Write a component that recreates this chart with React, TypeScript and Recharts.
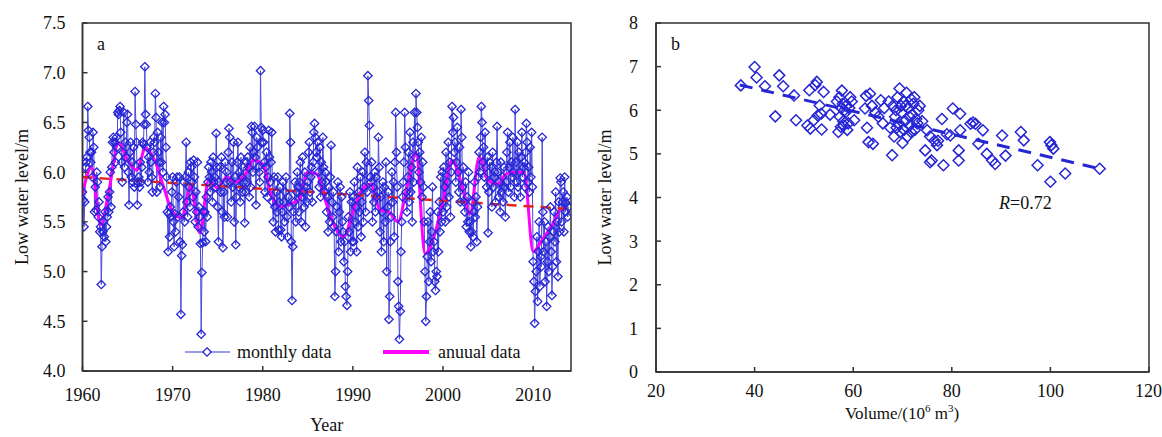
import React from "react";
import {
  ComposedChart,
  Line,
  Scatter,
  XAxis,
  YAxis,
  ReferenceArea,
  Customized,
} from "recharts";

const FONT = "'Liberation Serif', 'Times New Roman', serif";

// ---- panel a: monthly low water level, by decade (12 per year) ----
const m1960s = [
  5.8, 5.72, 5.45, 5.7, 6.05, 6.1, 6.15, 6.66, 6.42, 6.35, 6.2, 6.1,
  6.2, 5.95, 6.4, 6.25, 5.6, 5.85, 5.62, 6.0, 5.9, 5.55, 5.7, 5.4,
  5.45, 4.87, 5.25, 5.4, 5.5, 5.35, 5.6, 5.3, 5.45, 5.55, 5.75, 5.6,
  5.8, 6.0, 5.65, 6.05, 6.3, 6.35, 6.2, 6.3, 6.1, 6.35, 6.25, 6.6,
  6.58, 6.62, 6.66, 6.4, 6.1, 5.9, 6.2, 6.6, 6.05, 6.3, 6.15, 6.5,
  6.58, 6.0, 5.67, 6.2, 6.3, 5.95, 6.1, 5.9, 6.25, 5.85, 6.81, 6.48,
  6.3, 5.67, 5.9, 5.95, 5.85, 6.1, 5.9, 6.05, 6.3, 6.28, 6.48, 7.06,
  6.58, 6.48, 6.25, 5.9, 6.15, 6.0, 6.3, 6.1, 5.95, 5.8, 6.2, 6.35,
  6.3, 6.79, 6.55, 5.8, 6.4, 6.2, 6.1, 5.85, 6.35, 6.1, 6.5, 6.0,
  6.66, 6.5, 6.58, 6.25, 5.95, 5.6, 5.2, 5.58, 5.35, 5.65, 5.55, 5.8,
];
const m1970s = [
  5.95, 5.5, 5.25, 5.58, 5.4, 5.9, 5.95, 5.55, 5.75, 5.95, 5.3, 4.57,
  5.16, 5.27, 5.6, 5.9, 5.5, 5.95, 6.3, 5.7, 5.55, 6.0, 5.85, 5.65,
  6.1, 6.05, 5.9, 5.75, 6.12, 5.95, 5.5, 5.8, 5.6, 6.1, 5.45, 5.65,
  5.55, 5.28, 4.37, 4.99, 5.29, 5.6, 5.4, 5.6, 5.3, 5.75, 5.55, 5.9,
  6.05, 5.95, 5.8, 6.1, 6.0, 5.7, 6.15, 5.9, 5.95, 5.85, 6.39, 6.05,
  5.65, 5.3, 5.9, 6.05, 5.8, 6.15, 5.6, 5.24, 5.8, 5.55, 6.1, 5.9,
  6.0, 5.55, 6.2, 6.44, 6.35, 5.9, 5.7, 6.1, 5.85, 6.3, 5.5, 5.95,
  5.27, 5.75, 6.1, 6.3, 5.85, 6.0, 5.7, 6.15, 5.95, 5.8, 6.05, 5.9,
  5.49, 5.8, 6.1, 5.9, 6.15, 6.05, 5.75, 6.25, 5.85, 6.46, 6.4, 6.0,
  6.2, 6.46, 6.15, 5.67, 6.35, 6.25, 6.05, 6.0, 5.9, 7.02, 6.45, 6.3,
];
const m1980s = [
  6.42, 6.3, 6.1, 5.8, 6.05, 6.2, 5.75, 5.95, 6.42, 6.15, 5.9, 6.1,
  6.4, 5.7, 5.5, 5.95, 5.65, 5.4, 5.8, 5.6, 5.95, 5.42, 5.7, 5.85,
  5.42, 5.35, 5.6, 5.9, 5.7, 5.5, 5.8, 5.95, 5.55, 5.35, 5.75, 5.65,
  6.59, 6.3, 5.3, 4.71, 5.25, 5.6, 5.7, 5.9, 5.5, 5.8, 6.0, 5.85,
  5.6, 5.9, 6.1, 5.5, 5.75, 6.15, 5.8, 5.65, 6.0, 5.45, 5.85, 5.7,
  5.9, 6.2, 6.3, 5.8, 5.95, 6.05, 5.7, 6.1, 6.4, 6.49, 6.35, 6.2,
  6.15, 6.3, 6.0, 5.85, 6.25, 5.75, 6.1, 5.9, 6.35, 6.05, 5.8, 6.0,
  5.9, 5.6, 5.75, 5.4, 5.85, 5.5, 5.95, 6.27, 5.7, 5.55, 5.8, 5.45,
  4.75, 5.0, 5.4, 5.65, 5.9, 5.2, 5.6, 5.85, 5.3, 5.75, 5.5, 5.4,
  5.1, 5.3, 4.85, 4.75, 4.66, 5.0, 5.55, 5.4, 5.8, 5.2, 5.7, 5.3,
];
const m1990s = [
  5.75, 5.3, 5.9, 5.5, 5.65, 5.2, 6.05, 5.45, 5.8, 5.6, 5.95, 5.35,
  5.7, 6.0, 5.5, 5.85, 6.2, 5.6, 6.1, 5.8, 6.97, 6.72, 6.47, 5.95,
  5.9, 6.1, 5.5, 5.85, 5.7, 6.0, 5.6, 5.95, 5.75, 5.8, 6.35, 6.05,
  5.4, 5.75, 5.2, 5.6, 5.9, 5.3, 5.85, 5.5, 6.1, 5.0, 5.65, 5.8,
  4.52, 4.75, 5.3, 5.55, 6.0, 5.7, 5.9, 5.35, 6.1, 6.6, 6.2, 5.85,
  4.9, 4.65, 4.32, 4.6, 5.2, 5.5, 5.75, 5.9, 6.1, 6.6, 6.25, 5.8,
  5.6, 5.95, 6.2, 5.7, 6.4, 5.8, 6.05, 5.5, 6.3, 5.9, 6.6, 6.15,
  6.79, 6.6, 6.45, 6.3, 6.0, 6.2, 5.9, 6.35, 5.75, 6.1, 5.85, 5.5,
  5.0, 4.5, 4.75, 5.15, 5.5, 4.9, 5.3, 5.6, 5.1, 5.4, 5.85, 5.2,
  5.3, 4.9, 4.81, 5.0, 4.95, 5.6, 5.2, 5.7, 5.4, 5.95, 5.5, 6.0,
];
const m2000s = [
  5.6, 6.05, 5.85, 5.5, 6.2, 5.65, 5.9, 6.3, 5.75, 6.1, 5.55, 6.0,
  6.66, 6.4, 6.55, 6.2, 6.3, 5.9, 6.1, 6.45, 6.0, 5.8, 6.25, 5.7,
  6.63, 6.35, 5.85, 6.05, 5.7, 5.6, 5.9, 5.45, 5.75, 5.5, 6.0, 5.4,
  5.5, 5.25, 5.4, 5.7, 5.35, 5.6, 5.9, 5.55, 5.75, 5.3, 5.65, 5.95,
  6.2, 6.0, 6.35, 6.66, 6.5, 6.1, 6.25, 5.95, 6.4, 6.05, 5.85, 6.15,
  5.39, 5.8, 6.1, 5.9, 6.05, 5.65, 6.2, 5.85, 5.95, 6.0, 5.7, 6.1,
  6.46, 6.0, 5.75, 5.9, 5.6, 6.1, 5.8, 5.95, 5.7, 6.05, 5.85, 5.55,
  5.9, 6.2, 6.4, 5.8, 6.05, 6.3, 5.85, 6.1, 5.95, 6.35, 6.0, 5.75,
  6.63, 6.1, 5.9, 6.3, 5.85, 6.2, 6.0, 5.75, 6.15, 6.4, 5.95, 6.05,
  6.1, 5.85, 6.2, 6.49, 6.3, 5.9, 6.05, 5.8, 6.25, 5.95, 6.4, 5.85,
];
const m2010s = [
  5.1, 4.9, 4.48, 4.8, 5.0, 5.35, 4.7, 5.2, 5.5, 4.85, 5.15, 5.05,
  6.35, 5.6, 5.2, 5.5, 4.9, 5.3, 4.65, 5.1, 5.45, 5.0, 5.35, 5.65,
  5.2, 4.76, 5.05, 5.4, 5.6, 5.3, 5.8, 5.1, 5.5, 4.95, 5.7, 5.4,
  5.94, 5.9, 5.5, 5.7, 5.8, 5.4, 5.95, 5.6, 5.69, 5.75, 5.55, 5.65,
];

const firstYear = 1960;
const annualLevels = [
  5.78, 6.05, 5.47, 5.85, 6.3, 6.12, 6.02, 6.24, 6.12, 5.85,
  5.6, 5.54, 5.85, 5.39, 5.92, 5.84, 5.95, 5.9, 5.97, 6.12,
  6.08, 5.75, 5.65, 5.68, 5.72, 6.0, 5.98, 5.7, 5.45, 5.35,
  5.6, 5.82, 5.88, 5.62, 5.6, 5.5, 5.85, 6.2, 5.18, 5.35,
  5.72, 6.12, 5.9, 5.58, 6.15, 5.92, 5.88, 5.98, 6.0, 6.0,
  5.2, 5.32, 5.45, 5.63,
];
const trendYears = [1960, 2014];
const trendLevels = [5.95, 5.63];

const yearTicks = [1960, 1970, 1980, 1990, 2000, 2010];
const levelTicksA = [4, 4.5, 5, 5.5, 6, 6.5, 7, 7.5];

// ---- panel b: volume vs low water level ----
const volumes = [
  37.2, 40.0, 40.4, 42.1, 45.0, 45.8, 44.2, 48.0, 48.4, 51.1, 50.7, 51.3,
  52.6, 52.3, 54.0, 53.2, 52.8, 53.5, 52.0, 53.6, 55.3,
  56.7, 57.2, 57.7, 57.0, 57.5, 58.0, 57.3, 58.2, 58.6, 57.9, 58.4, 59.0,
  59.4, 58.8, 59.2, 60.2, 57.6, 58.1, 59.7,
  62.6, 62.8, 63.1, 63.4, 62.4, 64.0, 65.6, 65.1, 63.8, 64.5, 66.3, 66.0,
  67.9, 69.4, 68.0, 68.5, 68.8, 69.0, 69.5, 69.8, 70.2, 70.5, 70.8, 71.0,
  71.2, 71.5, 71.8, 72.0, 72.2, 72.5, 72.8, 73.2, 68.3, 69.2, 70.0, 70.6,
  71.4, 72.4, 73.0, 67.5, 68.7, 69.7, 70.3, 71.7, 67.2, 73.5, 74.0,
  75.0, 75.6, 74.6, 75.6, 75.9, 77.0, 76.5, 77.2, 78.3, 78.0, 79.7, 80.2, 79.0,
  81.7, 81.7, 81.4, 81.4, 83.8, 84.8, 84.3, 86.3, 85.4, 87.1, 88.2, 88.8,
  90.2, 90.9, 94.0, 94.6, 97.4, 99.9, 100.2, 100.6, 100.0, 103.0, 110.0,
];
const levels = [
  6.57, 6.99, 6.75, 6.55, 6.8, 6.55, 5.86, 6.34, 5.77, 6.46, 5.65, 5.58,
  6.65, 6.58, 6.42, 6.11, 5.88, 5.92, 5.77, 5.56, 5.9,
  6.2, 6.3, 6.45, 5.5, 5.62, 5.75, 5.85, 6.0, 6.1, 6.15, 5.95, 5.7,
  6.3, 5.55, 6.05, 5.77, 6.05, 5.65, 6.2,
  6.33, 5.6, 5.27, 6.38, 6.04, 5.23, 6.23, 5.85, 6.1, 5.95, 6.05, 5.7,
  4.97, 6.5, 6.1, 5.85, 5.6, 6.3, 5.5, 5.95, 6.2, 5.75, 6.4, 5.4,
  6.05, 5.65, 6.25, 5.9, 6.15, 5.55, 5.8, 6.0, 5.4, 5.7, 5.25, 6.1,
  5.85, 6.3, 5.7, 5.6, 6.0, 6.1, 5.55, 5.5, 6.2, 6.1, 5.75,
  5.54, 5.4, 5.08, 4.81, 4.85, 5.2, 5.3, 5.3, 4.74, 5.8, 5.42, 6.04, 5.45,
  5.92, 5.54, 5.08, 4.85, 5.69, 5.69, 5.72, 5.54, 5.23, 5.0, 4.85, 4.77,
  5.42, 4.96, 5.5, 5.31, 4.74, 5.27, 5.2, 5.12, 4.36, 4.55, 4.66,
];
const fitVolumes = [37, 110];
const fitLevels = [6.58, 4.66];

const volumeTicks = [20, 40, 60, 80, 100, 120];
const levelTicksB = [0, 1, 2, 3, 4, 5, 6, 7, 8];

const monthlyLevels = [...m1960s, ...m1970s, ...m1980s, ...m1990s, ...m2000s, ...m2010s];
const monthlyData = monthlyLevels.map((v, i) => ({ x: firstYear + i / 12, y: v }));
const annualData = annualLevels.map((v, i) => ({ x: firstYear + i, y: v }));
const trendData = trendYears.map((x, i) => ({ x, y: trendLevels[i] }));
const scatterData = volumes.map((x, i) => ({ x, y: levels[i] }));
const fitData = fitVolumes.map((x, i) => ({ x, y: fitLevels[i] }));

const BLUE = "#2626d4";
const tickStyle = { fill: "#111", fontSize: 18, fontFamily: FONT };
const axisColor = "#333";

function diamond(cx: number, cy: number, r: number) {
  return `${cx},${cy - r} ${cx + r},${cy} ${cx},${cy + r} ${cx - r},${cy}`;
}

const MonthDot = (props: any) => {
  const { cx, cy, index } = props;
  if (cx == null || cy == null) return <g key={`md-${index}`} />;
  return (
    <polygon
      key={`md-${index}`}
      points={diamond(cx, cy, 4.2)}
      fill="none"
      stroke={BLUE}
      strokeWidth={1.3}
    />
  );
};

const ScatterDiamond = (props: any) => {
  const { cx, cy } = props;
  if (cx == null || cy == null) return <g />;
  return <polygon points={diamond(cx, cy, 5.5)} fill="none" stroke={BLUE} strokeWidth={1.5} />;
};

const LegendA = () => (
  <g fontFamily={FONT} fontSize={18} fill="#111">
    <line x1={185} y1={352} x2={230} y2={352} stroke="#7a7ae8" strokeWidth={1.5} />
    <polygon points={diamond(207, 352, 4.2)} fill="#fff" stroke={BLUE} strokeWidth={1.3} />
    <text x={237} y={358}>monthly data</text>
    <line x1={383} y1={352} x2={429} y2={352} stroke="#ff00ff" strokeWidth={4} />
    <text x={438} y={358}>anuual data</text>
    <text x={97} y={50}>a</text>
  </g>
);

const TextB = () => (
  <g fontFamily={FONT} fontSize={18} fill="#111">
    <text x={91} y={50}>b</text>
    <text x={419} y={209}>
      <tspan fontStyle="italic">R</tspan>=0.72
    </text>
  </g>
);

const VolumeLabel = () => (
  <text x={322} y={419} textAnchor="middle" fontFamily={FONT} fontSize={17} fill="#111">
    Volume/(10
    <tspan dy={-7} fontSize={11}>6</tspan>
    <tspan dy={7}> m</tspan>
    <tspan dy={-7} fontSize={11}>3</tspan>
    <tspan dy={7}>)</tspan>
  </text>
);

export default function App() {
  return (
    <div style={{ position: "absolute", left: 0, top: 0, width: 1162, height: 437, background: "#fff" }}>
      <div style={{ position: "absolute", left: 0, top: 0 }}>
        <ComposedChart width={580} height={437} margin={{ top: 23, right: 9, bottom: 0, left: 0 }}>
          <XAxis
            type="number"
            dataKey="x"
            domain={[1960, 2014.2]}
            ticks={yearTicks}
            allowDataOverflow
            height={66}
            tickSize={-5}
            tickMargin={22}
            tick={tickStyle}
            stroke={axisColor}
            strokeWidth={1.5}
            label={{ value: "Year", position: "insideBottom", offset: 6, fontSize: 18, fill: "#111", fontFamily: FONT }}
          />
          <YAxis
            type="number"
            domain={[4, 7.5]}
            ticks={levelTicksA}
            tickFormatter={(v: number) => v.toFixed(1)}
            allowDataOverflow
            width={82.5}
            tickSize={-5}
            tickMargin={22}
            tick={tickStyle}
            stroke={axisColor}
            strokeWidth={1.5}
            label={{
              value: "Low water level/m",
              angle: -90,
              position: "insideLeft",
              offset: 22,
              fontSize: 18,
              fill: "#111",
              fontFamily: FONT,
              style: { textAnchor: "middle" },
            }}
          />
          <ReferenceArea x1={1960} x2={2014.2} y1={4} y2={7.5} fill="none" stroke={axisColor} strokeWidth={1.5} ifOverflow="visible" />
          <Line
            data={monthlyData}
            dataKey="y"
            type="linear"
            stroke="#4a4adc"
            strokeWidth={1}
            dot={MonthDot}
            isAnimationActive={false}
          />
          <Line
            data={annualData}
            dataKey="y"
            type="monotone"
            stroke="#ff00ff"
            strokeWidth={3}
            dot={false}
            isAnimationActive={false}
          />
          <Line
            data={trendData}
            dataKey="y"
            type="linear"
            stroke="#e3231c"
            strokeWidth={2.5}
            strokeDasharray="10 7"
            dot={false}
            isAnimationActive={false}
          />
          <Customized component={LegendA} />
        </ComposedChart>
      </div>
      <div style={{ position: "absolute", left: 580, top: 0 }}>
        <ComposedChart width={582} height={437} margin={{ top: 23, right: 13, bottom: 0, left: 0 }}>
          <XAxis
            type="number"
            dataKey="x"
            domain={[20, 120]}
            ticks={volumeTicks}
            allowDataOverflow
            height={65}
            tickSize={-5}
            tickMargin={17}
            tick={tickStyle}
            stroke={axisColor}
            strokeWidth={1.5}
          />
          <YAxis
            type="number"
            domain={[0, 8]}
            ticks={levelTicksB}
            allowDataOverflow
            width={76}
            tickSize={-5}
            tickMargin={23}
            tick={tickStyle}
            stroke={axisColor}
            strokeWidth={1.5}
            label={{
              value: "Low water level/m",
              angle: -90,
              position: "insideLeft",
              offset: 25,
              fontSize: 18,
              fill: "#111",
              fontFamily: FONT,
              style: { textAnchor: "middle" },
            }}
          />
          <ReferenceArea x1={20} x2={120} y1={0} y2={8} fill="none" stroke={axisColor} strokeWidth={1.5} ifOverflow="visible" />
          <Scatter data={scatterData} dataKey="y" shape={ScatterDiamond} isAnimationActive={false} />
          <Line
            data={fitData}
            dataKey="y"
            type="linear"
            stroke={BLUE}
            strokeWidth={3}
            strokeDasharray="13 9"
            dot={false}
            isAnimationActive={false}
          />
          <Customized component={TextB} />
          <Customized component={VolumeLabel} />
        </ComposedChart>
      </div>
    </div>
  );
}
